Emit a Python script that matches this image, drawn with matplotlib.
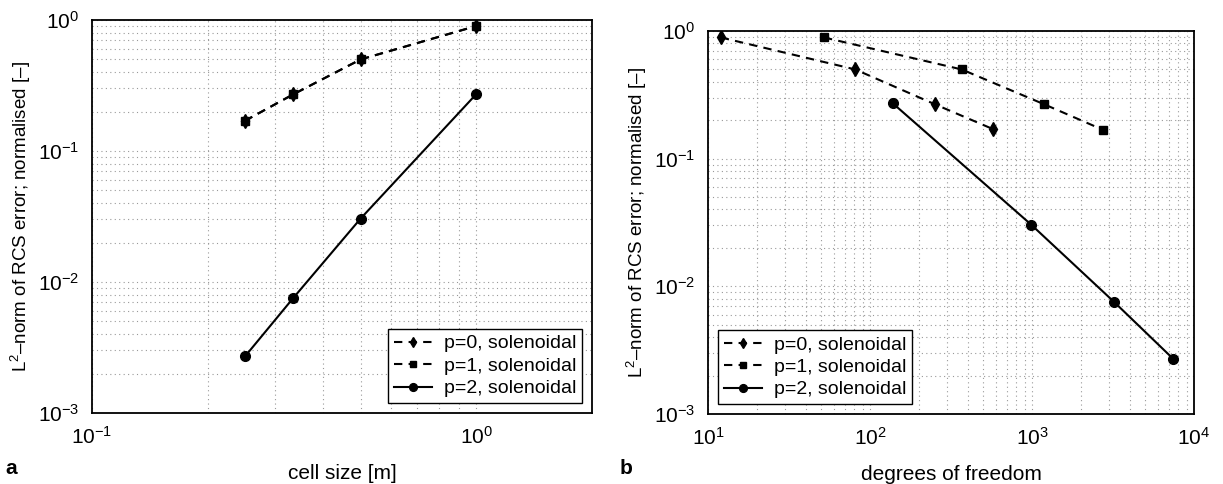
import matplotlib
matplotlib.use("Agg")
from matplotlib import pyplot as plt

plt.rcParams['font.family'] = ['Liberation Sans', 'DejaVu Sans']
plt.rcParams['mathtext.fontset'] = 'custom'
plt.rcParams['mathtext.rm'] = 'Liberation Sans'

# panel a: cell size
cell_size = [0.25, 1/3, 0.5, 1.0]
err_p0 = [0.17, 0.27, 0.5, 0.9]
err_p1 = [0.17, 0.27, 0.5, 0.9]
err_p2 = [0.0027, 0.0075, 0.0305, 0.272]

# panel b: degrees of freedom
dof_p0 = [12, 81, 251, 577]
dof_p1 = [52, 368, 1186, 2749]
dof_p2 = [138, 986, 3228, 7448]
err_b_p0 = [0.89, 0.5, 0.267, 0.17]
err_b_p1 = [0.89, 0.5, 0.267, 0.168]
err_b_p2 = [0.272, 0.0305, 0.0075, 0.0027]

labels = ['p=0, solenoidal', 'p=1, solenoidal', 'p=2, solenoidal']
ylab = 'L$^2$\u2013norm of RCS error; normalised [\u2013]'

fig = plt.figure(figsize=(12.23, 4.84), dpi=100)
ax1 = fig.add_axes([92/1223, 71/484, 500/1223, 393/484])
ax2 = fig.add_axes([708/1223, 70/484, 486/1223, 383/484])

dash = (0, (4, 3))
for ax, xs in ((ax1, (cell_size, cell_size, cell_size)), (ax2, (dof_p0, dof_p1, dof_p2))):
    ys = (err_p0, err_p1, err_p2) if ax is ax1 else (err_b_p0, err_b_p1, err_b_p2)
    ax.plot(xs[0], ys[0], color='k', ls=dash, lw=1.5, marker='d', ms=7, label=labels[0])
    ax.plot(xs[1], ys[1], color='k', ls=dash, lw=1.5, marker='s', ms=6, label=labels[1])
    ax.plot(xs[2], ys[2], color='k', ls='-', lw=1.5, marker='o', ms=7, label=labels[2])
    ax.set_xscale('log')
    ax.set_yscale('log')
    ax.set_ylim(1e-3, 1)
    ax.grid(True, which='both', color='#999999', ls=(0, (1, 3)), lw=0.8)
    ax.tick_params(which='both', direction='in', length=0, labelsize=15, pad=9)
    for s in ax.spines.values():
        s.set_linewidth(1.3)
    ax.set_ylabel(ylab, fontsize=13.5, labelpad=4)
    leg_loc = 'lower right' if ax is ax1 else 'lower left'
    leg = ax.legend(loc=leg_loc, fontsize=14, fancybox=False, framealpha=1,
                    edgecolor='k', handlelength=2.0, handletextpad=0.6,
                    borderpad=0.3, labelspacing=0.25, borderaxespad=0.5,
                    markerscale=0.8)
    leg.get_frame().set_linewidth(1.0)

ax1.set_xlim(0.1, 2)
ax1.set_xlabel('cell size [m]', fontsize=15, labelpad=12)
ax2.set_xlim(10, 1e4)
ax2.set_xlabel('degrees of freedom', fontsize=15, labelpad=12)

fig.text(5/1223, 1 - 468/484, 'a', fontsize=15, fontweight='bold', va='center')
fig.text(620/1223, 1 - 468/484, 'b', fontsize=15, fontweight='bold', va='center')

fig.savefig('out.png', dpi=100)
